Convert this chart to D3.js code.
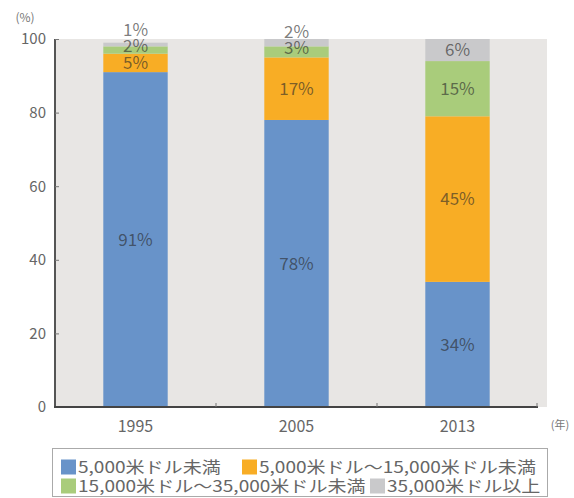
<!DOCTYPE html>
<html>
<head>
<meta charset="utf-8">
<script src="https://cdn.jsdelivr.net/npm/d3@7"></script>
<style>
  html, body { margin: 0; padding: 0; background: #fff; }
  svg { display: block; }
  text { font-family: "Noto Sans CJK JP", "Noto Sans", sans-serif; }
</style>
</head>
<body>
<svg id="chart" width="574" height="498"></svg>
<script>
// 年ごとの所得階層別世帯構成比 (%)
const years = ["1995", "2005", "2013"];
const seriesNames = [
  "5,000米ドル未満",
  "5,000米ドル～15,000米ドル未満",
  "15,000米ドル～35,000米ドル未満",
  "35,000米ドル以上"
];
const under5k = [91, 78, 34];
const from5kTo15k = [5, 17, 45];
const from15kTo35k = [2, 3, 15];
const over35k = [1, 2, 6];
const yTicks = [0, 20, 40, 60, 80, 100];
const colors = ["#6893c9", "#f8ad25", "#a9cc7b", "#c9c9cb"];

const seriesValues = [under5k, from5kTo15k, from15kTo35k, over35k];
const rows = years.map((y, i) => {
  const r = { year: y };
  seriesNames.forEach((s, k) => { r[s] = seriesValues[k][i]; });
  return r;
});

const svg = d3.select("#chart");
const plot = { left: 55, right: 538, top: 39, bottom: 407 };

const x = d3.scaleBand().domain(years)
  .range([plot.left, plot.right]).paddingInner(0.6).paddingOuter(0.3);
const y = d3.scaleLinear().domain([0, 100]).range([plot.bottom, plot.top]);

// plot background
svg.append("rect")
  .attr("x", plot.left).attr("y", plot.top)
  .attr("width", 547 - plot.left).attr("height", plot.bottom - plot.top)
  .attr("fill", "#e8e6e4");

const stack = d3.stack().keys(seriesNames);
const layers = stack(rows);

// stacked bars
svg.append("g").selectAll("g").data(layers).join("g")
  .attr("fill", (d, i) => colors[i])
  .selectAll("rect").data(d => d).join("rect")
  .attr("x", d => x(d.data.year))
  .attr("width", x.bandwidth())
  .attr("y", d => y(d[1]))
  .attr("height", d => y(d[0]) - y(d[1]));

// value labels: centered in each segment, thin segments pushed upward so they don't overlap
const labelG = svg.append("g");
years.forEach((yr, i) => {
  let prevY = Infinity;
  layers.forEach((layer, k) => {
    const seg = layer[i];
    const v = seg[1] - seg[0];
    let cy = y((seg[0] + seg[1]) / 2);
    if (v < 4) cy -= 4;
    cy = Math.min(cy, prevY - 16.5);
    prevY = cy;
    labelG.append("text")
      .attr("x", x(yr) + x.bandwidth() / 2)
      .attr("y", cy)
      .attr("dy", "0.36em")
      .attr("text-anchor", "middle")
      .attr("font-size", 17)
      .attr("fill", "#2a2a2a")
      .attr("fill-opacity", 0.62)
      .text(v + "%");
  });
});

// y axis
const yAxis = svg.append("g")
  .attr("transform", `translate(${plot.left},0)`)
  .call(d3.axisRight(y).tickValues(yTicks).tickSize(4).tickFormat(""));
yAxis.select(".domain").attr("stroke", "#555").attr("stroke-width", 2)
  .attr("d", `M0,${plot.top}V${plot.bottom}`);
yAxis.selectAll(".tick line").attr("stroke", "#777");
svg.append("g").selectAll("text").data(yTicks).join("text")
  .attr("x", plot.left - 9).attr("y", d => y(d)).attr("dy", "0.36em")
  .attr("text-anchor", "end").attr("font-size", 15).attr("fill", "#666")
  .text(d => d);

// x axis
svg.append("line")
  .attr("x1", plot.left - 1).attr("x2", plot.right)
  .attr("y1", plot.bottom).attr("y2", plot.bottom)
  .attr("stroke", "#444").attr("stroke-width", 2);
const bounds = years.slice(1).map(yr => x(yr) - x.step() * x.paddingInner() / 2);
bounds.push(plot.right - 1);
svg.append("g").selectAll("line").data(bounds).join("line")
  .attr("x1", d => d).attr("x2", d => d)
  .attr("y1", plot.bottom - 4).attr("y2", plot.bottom)
  .attr("stroke", "#777");
svg.append("g").selectAll("text").data(years).join("text")
  .attr("x", d => x(d) + x.bandwidth() / 2).attr("y", 426).attr("dy", "0.36em")
  .attr("text-anchor", "middle").attr("font-size", 16).attr("fill", "#666")
  .text(d => d);

// unit labels
svg.append("text").attr("x", 25).attr("y", 18).attr("dy", "0.36em")
  .attr("text-anchor", "middle").attr("font-size", 12).attr("fill", "#777").text("(%)");
svg.append("text").attr("x", 560).attr("y", 425).attr("dy", "0.36em")
  .attr("text-anchor", "middle").attr("font-size", 11).attr("fill", "#777").text("(年)");

// legend
svg.append("rect")
  .attr("x", 52.5).attr("y", 448.5).attr("width", 495).attr("height", 48)
  .attr("fill", "#fff").attr("stroke", "#aaa");
const legendPos = [[61, 467], [242, 467], [61, 486], [370, 486]];
const legend = svg.append("g").selectAll("g").data(seriesNames).join("g")
  .attr("transform", (d, i) => `translate(${legendPos[i][0]},${legendPos[i][1]})`);
legend.append("rect").attr("x", 0).attr("y", -7.5).attr("width", 15).attr("height", 15)
  .attr("fill", (d, i) => colors[i]);
legend.append("text")
  .attr("transform", "translate(17,0) scale(1.19,1)")
  .attr("dy", "0.36em")
  .attr("font-size", 16).attr("fill", "#666").text(d => d);
</script>
</body>
</html>
